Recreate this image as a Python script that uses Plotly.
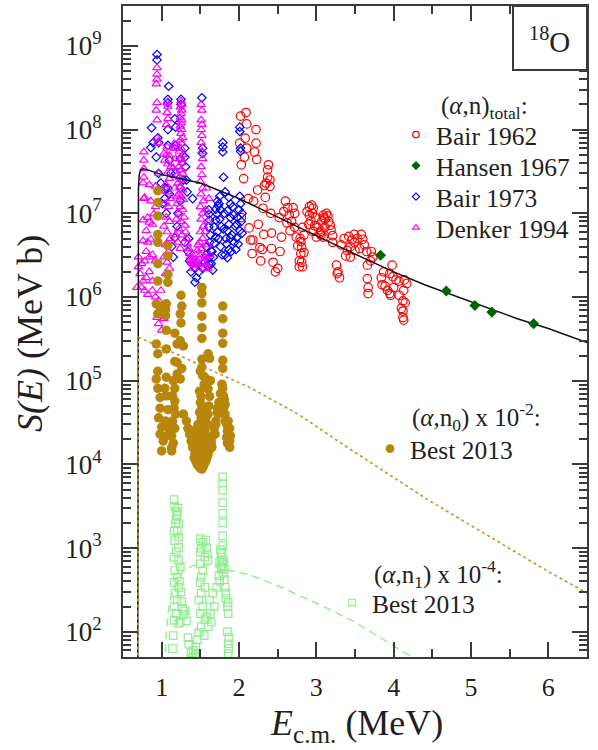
import plotly.graph_objects as go

FONT = "Liberation Serif, Times New Roman, DejaVu Serif, serif"
INK = "#231f20"
AX = "#3a3a3a"

# ---------------- data: (E_cm [MeV], S [MeV b]) ----------------
bair1962 = [
    (2.02, 1.45e8), (2.09, 1.6e8), (2.10, 1.17e8), (2.22, 1.0e8), (2.01, 6.9e7), (2.08, 7.9e7), (2.10, 6.0e7),
    (2.22, 6.9e7), (2.20, 5.4e7), (2.23, 4.4e7), (2.07, 4.7e7), (2.03, 3.8e7), (2.38, 3.8e7), (2.37, 3.3e7),
    (2.37, 2.7e7), (2.35, 2.3e7), (2.40, 2.5e7), (2.33, 2.15e7), (2.40, 2.1e7), (2.06, 2.6e7), (2.24, 1.9e7),
    (2.12, 1.5e7), (2.19, 1.4e7), (2.34, 1.55e7), (2.31, 1.15e7), (2.41, 1.0e7), (2.25, 7.4e6), (2.13, 6.7e6),
    (2.03, 8.9e6), (2.32, 5.6e6), (2.42, 5.8e6), (2.15, 4.8e6), (2.18, 4.8e6), (2.27, 3.9e6), (2.30, 3.7e6),
    (2.42, 3.8e6), (2.17, 3.3e6), (2.53, 3.5e6), (2.28, 2.7e6), (2.44, 2.6e6), (2.50, 2.2e6), (2.47, 2.0e6),
    (2.60, 1.4e7), (2.63, 1.17e7), (2.70, 1.17e7), (2.72, 1.0e7), (2.65, 9.5e6), (2.58, 1.05e7), (2.52, 8.9e6),
    (2.62, 7.7e6), (2.68, 8.0e6), (2.72, 6.8e6), (2.66, 6.2e6), (2.55, 5.2e6), (2.74, 5.2e6), (2.76, 4.1e6),
    (2.80, 4.6e6), (2.80, 3.3e6), (2.78, 2.7e6), (2.81, 2.6e6), (2.78, 2.3e6), (2.82, 2.3e6), (2.84, 3.4e6),
    (2.84, 5.5e6), (2.79, 5.0e6), (2.81, 3.9e6), (2.82, 6.8e6),
    (2.91, 1.2e7), (2.94, 1.25e7), (2.96, 1.15e7), (2.88, 1.05e7), (2.91, 9.5e6), (2.95, 1.0e7), (2.99, 8.9e6),
    (2.93, 8.1e6), (2.90, 7.4e6), (2.98, 7.1e6), (2.96, 6.1e6), (3.02, 6.8e6), (3.00, 5.2e6), (3.06, 6.1e6),
    (3.09, 9.5e6), (3.10, 8.9e6), (3.07, 8.1e6), (3.11, 6.8e6), (3.06, 5.5e6), (3.09, 5.2e6),
    (3.13, 1.0e7), (3.15, 9.3e6), (3.11, 8.5e6), (3.16, 8.0e6), (3.18, 7.2e6), (3.21, 5.4e6), (3.05, 5.8e6),
    (3.21, 4.5e6), (3.19, 6.3e6),
    (3.36, 5.0e6), (3.42, 5.3e6), (3.49, 5.6e6), (3.53, 5.0e6), (3.58, 5.6e6), (3.60, 4.9e6), (3.49, 4.5e6),
    (3.44, 4.0e6), (3.40, 3.6e6), (3.38, 3.1e6), (3.44, 3.0e6), (3.50, 3.6e6), (3.56, 3.8e6), (3.62, 4.2e6),
    (3.65, 3.5e6), (3.26, 2.4e6), (3.28, 2.0e6), (3.30, 1.7e6), (3.27, 1.9e6), (3.32, 4.2e6), (3.46, 4.8e6),
    (3.71, 3.5e6), (3.73, 3.0e6), (3.66, 2.4e6), (3.70, 2.7e6), (3.66, 1.66e6), (3.67, 1.3e6), (3.67, 1.1e6),
    (3.98, 2.4e6), (3.84, 1.7e6), (3.85, 1.4e6), (3.89, 1.35e6), (3.95, 1.1e6), (4.07, 1.05e6), (4.12, 9.0e5),
    (4.10, 7.3e5), (4.12, 6.8e5), (4.12, 5.7e5), (4.13, 5.3e5), (4.15, 8.5e5), (4.13, 1.2e6), (4.17, 1.45e6),
    (4.14, 1.6e6), (3.87, 2.0e6), (3.95, 1.9e6), (3.99, 1.75e6), (4.03, 1.6e6), (4.07, 1.55e6), (4.00, 1.3e6),
    (3.92, 1.2e6), (3.96, 1.05e6),
]

hansen1967 = [(3.83, 3.15e6), (4.68, 1.18e6), (5.05, 7.9e5), (5.27, 6.6e5), (5.81, 4.8e5)]

bair1973 = [
    (0.94, 7.9e8), (0.94, 6.8e8), (1.09, 3.3e8), (1.08, 2.3e8), (1.08, 2.1e8), (1.25, 2.3e8), (1.25, 2.0e8),
    (1.52, 2.4e8), (1.17, 1.35e8), (1.18, 1.07e8), (1.08, 1.0e8), (0.87, 1.05e8), (0.95, 8.0e7), (0.96, 7.0e7),
    (0.86, 6.1e7), (0.89, 7.0e7), (1.08, 6.5e7), (1.18, 6.5e7), (0.93, 4.7e7), (1.10, 4.3e7), (0.96, 3.0e7),
    (1.12, 3.0e7), (1.30, 6.0e7), (1.30, 4.7e7), (1.53, 6.0e7), (1.53, 5.2e7), (1.79, 7.0e7), (1.79, 6.2e7),
    (1.79, 5.4e7), (1.80, 2.7e7), (2.01, 1.07e8), (2.01, 9.5e7), (2.02, 6.0e7), (2.02, 5.5e7), (1.05, 2.0e7),
    (0.99, 2.3e7), (1.04, 1.5e7), (1.01, 1.3e7), (1.06, 1.0e7), (1.21, 1.0e7), (1.17, 5.1e6), (1.15, 3.0e6),
    (1.13, 4.0e6), (1.20, 7.0e6), (1.10, 1.7e7), (1.24, 1.4e7), (1.28, 2.5e7), (1.33, 1.8e7), (1.40, 1.5e7),
    (1.24, 4.5e7), (1.31, 3.6e7), (1.18, 3.0e7), (1.32, 2.5e7), (1.08, 2.0e7), (1.24, 2.0e7),
    (1.34, 3.5e6), (1.36, 2.7e6), (1.38, 2.0e6), (1.43, 1.5e6), (1.45, 1.7e6), (1.48, 2.0e6), (1.53, 2.2e6),
    (1.56, 2.6e6), (1.57, 3.2e6), (1.61, 2.5e6), (1.60, 2.3e6), (1.39, 2.5e6), (1.43, 2.2e6), (1.46, 2.6e6),
    (1.62, 3.0e6), (1.64, 3.6e6), (1.30, 4.5e6), (1.35, 5.0e6), (1.58, 4.0e6),
    (1.61, 1.1e7), (1.61, 9.8e6), (1.62, 8.3e6), (1.61, 6.9e6), (1.63, 5.5e6), (1.62, 4.5e6),
    (1.75, 1.6e7), (1.72, 1.4e7), (1.73, 1.23e7), (1.70, 1.12e7), (1.72, 9.8e6), (1.70, 8.3e6), (1.68, 6.9e6),
    (1.72, 6.0e6), (1.70, 5.2e6), (1.68, 4.4e6), (1.65, 3.5e6), (1.67, 3.0e6), (1.64, 2.5e6), (1.66, 2.1e6),
    (1.74, 1.3e7), (1.76, 1.1e7), (1.75, 8.5e6), (1.77, 7.0e6), (1.74, 5.0e6), (1.76, 4.0e6), (1.78, 3.2e6),
    (1.87, 1.55e7), (1.89, 1.3e7), (1.85, 1.07e7), (1.89, 8.9e6), (1.87, 7.4e6), (1.85, 6.2e6), (1.89, 5.1e6),
    (1.84, 4.3e6), (1.87, 3.7e6), (1.82, 3.2e6), (1.85, 2.95e6), (1.92, 1.2e7), (1.93, 9.5e6), (1.95, 7.0e6),
    (1.91, 5.5e6), (1.94, 4.5e6), (1.90, 3.5e6), (1.82, 1.8e7), (1.81, 1.0e7), (1.80, 6.5e6), (1.83, 5.0e6),
    (2.01, 1.6e7), (2.02, 1.3e7), (2.00, 1.1e7), (1.98, 8.9e6), (1.97, 7.4e6), (2.01, 6.2e6), (1.97, 5.1e6),
    (1.99, 4.3e6), (1.96, 3.7e6), (2.04, 1.0e7), (2.03, 8.0e6), (2.04, 5.8e6),
]

denker1994 = [
    (0.77, 5.4e7), (0.77, 4.3e7), (0.77, 3.4e7), (0.77, 2.7e7), (0.77, 1.5e7), (0.76, 8.3e6), (0.76, 4.7e6),
    (0.78, 1.55e7), (0.86, 1.4e7), (0.82, 8.9e6), (0.84, 7.8e6), (0.88, 7.4e6), (0.80, 6.2e6), (0.82, 4.5e6),
    (0.86, 4.9e6), (0.80, 3.5e6), (0.84, 3.0e6), (0.88, 3.2e6), (0.92, 2.7e6), (0.78, 2.7e6), (0.74, 2.5e6),
    (0.70, 2.3e6), (0.72, 1.9e6), (0.76, 1.55e6), (0.80, 1.7e6), (0.84, 2.0e6), (0.88, 1.55e6), (0.74, 1.3e6),
    (0.78, 1.2e6), (0.82, 1.07e6), (0.88, 1.2e6), (0.92, 1.0e6), (0.96, 9.1e5), (0.98, 6.8e5), (0.94, 5.7e5),
    (0.96, 4.8e5), (1.00, 4.0e5), (0.70, 3.0e6), (0.68, 1.3e6), (0.76, 2.3e7), (0.84, 2.2e7), (0.92, 2.1e7),
    (0.97, 1.85e7), (0.92, 1.2e7), (0.90, 9.8e6), (1.00, 7.5e5), (1.03, 5.5e5), (0.99, 1.2e6),
    (0.94, 5.5e8), (0.94, 4.6e8), (0.94, 4.0e8), (0.93, 3.5e8), (0.94, 2.1e8), (0.93, 1.7e8), (0.94, 1.3e8),
    (0.94, 7.9e7), (0.95, 7.0e7), (0.96, 3.0e7),
    (1.07, 2.1e8), (1.08, 1.9e8), (1.07, 1.6e8), (1.08, 1.35e8), (1.06, 1.15e8), (1.07, 6.2e7), (1.06, 5.0e7),
    (1.10, 4.9e7), (1.04, 4.3e7), (1.08, 3.9e7), (1.12, 3.6e7), (1.07, 3.0e7), (1.10, 2.6e7), (1.05, 2.2e7),
    (1.08, 1.8e7), (1.11, 1.5e7), (1.04, 1.3e7), (1.09, 1.2e7), (1.06, 9.0e6), (1.10, 8.0e6), (1.03, 7.0e6),
    (1.07, 6.0e6), (1.11, 5.0e6), (1.05, 4.2e6), (1.09, 3.5e6), (1.03, 3.0e6), (1.07, 2.6e6), (1.10, 2.2e6),
    (1.05, 1.9e6), (1.08, 1.6e6), (1.03, 5.2e7), (1.16, 6.8e7), (1.18, 6.0e7),
    (1.25, 2.2e8), (1.26, 2.0e8), (1.24, 1.85e8), (1.26, 1.7e8), (1.25, 1.55e8), (1.24, 1.4e8), (1.26, 1.3e8),
    (1.25, 1.2e8), (1.24, 1.1e8), (1.26, 1.0e8), (1.25, 9.0e7), (1.27, 8.0e7), (1.24, 7.5e7), (1.26, 6.8e7),
    (1.25, 6.0e7), (1.23, 5.5e7), (1.27, 5.0e7), (1.24, 4.5e7), (1.26, 4.0e7), (1.22, 3.6e7), (1.25, 3.3e7),
    (1.27, 3.0e7), (1.23, 2.7e7), (1.26, 2.5e7), (1.21, 2.3e7), (1.24, 2.1e7), (1.27, 1.9e7), (1.22, 1.7e7),
    (1.25, 1.6e7), (1.28, 1.45e7), (1.20, 1.3e7), (1.24, 1.2e7), (1.27, 1.1e7), (1.22, 1.0e7), (1.29, 9.0e6),
    (1.19, 8.5e6), (1.25, 8.0e6), (1.30, 7.2e6), (1.22, 6.5e6), (1.31, 6.0e6), (1.18, 5.5e6), (1.26, 5.5e6),
    (1.32, 5.0e6), (1.21, 4.5e6), (1.33, 4.3e6), (1.35, 3.8e6), (1.24, 3.8e6), (1.36, 3.3e6), (1.37, 3.0e6),
    (1.38, 2.8e6), (1.39, 2.6e6), (1.40, 2.5e6), (1.42, 2.6e6), (1.43, 2.4e6), (1.41, 2.2e6), (1.44, 2.8e6),
    (1.45, 3.2e6), (1.46, 3.6e6), (1.47, 4.2e6), (1.45, 2.5e6), (1.16, 6.0e7), (1.18, 4.5e7), (1.15, 3.5e7),
    (1.19, 2.8e7), (1.17, 2.0e7), (1.20, 1.6e7),
    (1.51, 2.0e8), (1.52, 1.7e8), (1.51, 1.3e8), (1.52, 1.15e8), (1.51, 1.0e8), (1.52, 8.5e7), (1.51, 7.0e7),
    (1.52, 5.5e7), (1.53, 4.5e7), (1.51, 3.6e7), (1.52, 2.9e7), (1.50, 2.4e7), (1.53, 2.0e7), (1.51, 1.7e7),
    (1.54, 1.4e7), (1.50, 1.2e7), (1.53, 1.0e7), (1.51, 8.5e6), (1.54, 7.0e6), (1.50, 6.0e6), (1.53, 5.0e6),
    (1.49, 4.5e6), (1.52, 3.8e6), (1.50, 3.2e6), (1.53, 2.6e6), (1.55, 2.2e6), (1.56, 3.0e6), (1.58, 2.5e6),
    (1.60, 2.2e6), (1.58, 2.0e7), (1.61, 1.5e7), (1.57, 1.1e7), (1.60, 8.0e6), (1.56, 6.0e6), (1.59, 4.2e6),
    (1.62, 3.2e6),
]

# (alpha,n0) x 1e-2
best2013_n0 = [
    (0.95, 1.86e7), (0.95, 1.35e7), (0.95, 9.3e6), (0.95, 5.6e6), (0.95, 4.5e6), (0.95, 2.5e6), (0.95, 1.55e6),
    (1.08, 4.1e6), (1.08, 3.1e6), (1.08, 1.86e6), (1.08, 1.5e6),
    (0.93, 8.3e5), (0.98, 7.6e5), (1.02, 6.5e5), (0.95, 6.3e5), (1.05, 6.0e5), (1.06, 8.3e5), (1.05, 7.0e5),
    (1.25, 1.05e6), (1.26, 7.8e5), (1.24, 6.3e5), (1.25, 4.9e5),
    (1.52, 1.3e6), (1.52, 1.1e6), (1.52, 8.5e5), (1.52, 5.9e5), (1.52, 4.3e5), (1.52, 3.2e5),
    (1.79, 7.8e5), (1.79, 5.5e5), (1.79, 3.7e5), (1.79, 2.8e5),
    (1.06, 4.0e5), (1.17, 3.7e5), (1.24, 3.0e5), (1.20, 2.75e5), (1.28, 2.6e5), (0.95, 2.1e5), (1.06, 2.4e5),
    (0.93, 2.75e5), (1.17, 1.7e5), (1.20, 1.65e5), (1.26, 1.4e5), (1.24, 1.05e5), (1.20, 1.2e5),
    (1.60, 2.1e5), (1.62, 1.85e5), (1.52, 1.8e5), (1.52, 1.45e5), (1.50, 1.3e5), (1.53, 1.15e5), (1.56, 1.1e5),
    (1.55, 9.1e4), (1.79, 1.75e5), (1.79, 1.4e5),
    (1.78, 9.1e4), (1.79, 8.1e4), (1.80, 6.6e4), (1.81, 6.0e4), (1.82, 5.2e4), (1.80, 4.7e4), (1.82, 4.0e4),
    (1.82, 3.3e4), (1.84, 3.0e4), (1.85, 2.5e4), (1.84, 2.1e4), (1.85, 1.8e4), (1.88, 1.6e4),
    (1.86, 3.3e4), (1.88, 2.7e4), (1.89, 2.2e4), (1.88, 1.9e4),
    (0.95, 1.3e5), (0.93, 1.05e5), (0.95, 8.1e4), (0.98, 6.3e4),
    (1.06, 1.1e5), (1.04, 8.1e4), (1.06, 6.6e4), (1.08, 4.5e4), (1.05, 3.3e4), (1.09, 2.7e4), (1.07, 2.2e4),
    (1.15, 1.0e5), (1.17, 8.1e4), (1.14, 6.6e4), (1.17, 5.7e4), (1.16, 4.7e4), (1.18, 4.0e4), (1.14, 3.3e4),
    (1.17, 2.7e4), (1.13, 2.2e4), (1.15, 1.8e4), (1.13, 1.6e4), (1.13, 1.45e4),
    (0.98, 4.7e4), (0.96, 3.6e4), (1.00, 2.8e4), (0.98, 2.3e4), (1.02, 1.9e4), (1.00, 1.45e4),
    (1.28, 4.0e4), (1.32, 3.3e4), (1.34, 2.7e4), (1.36, 2.3e4), (1.38, 1.9e4), (1.40, 1.6e4), (1.43, 1.35e4),
    (1.45, 1.15e4),
    (1.42, 1.2e4), (1.44, 1.1e4), (1.46, 1.0e4), (1.48, 9.5e3), (1.50, 9.0e3), (1.52, 8.8e3), (1.54, 9.5e3),
    (1.56, 1.05e4), (1.58, 1.15e4), (1.60, 1.3e4), (1.62, 1.5e4), (1.64, 1.8e4), (1.66, 2.2e4), (1.68, 2.7e4),
    (1.70, 3.3e4), (1.72, 4.2e4), (1.74, 5.5e4), (1.76, 7.0e4),
    (1.49, 7.5e4), (1.51, 6.5e4), (1.50, 5.5e4), (1.52, 4.8e4), (1.49, 4.2e4), (1.51, 3.6e4), (1.53, 3.1e4),
    (1.50, 2.7e4), (1.52, 2.3e4), (1.49, 2.0e4), (1.51, 1.75e4), (1.53, 1.5e4), (1.50, 1.3e4), (1.52, 1.15e4),
    (1.48, 1.3e4), (1.55, 1.25e4), (1.57, 1.5e4), (1.55, 1.9e4), (1.58, 2.1e4), (1.56, 2.5e4), (1.59, 3.0e4),
    (1.57, 3.5e4), (1.60, 4.0e4), (1.61, 5.0e4), (1.62, 6.5e4), (1.60, 8.0e4), (1.63, 1.0e5), (1.47, 1.7e4),
    (1.45, 1.45e4), (1.46, 2.1e4), (1.44, 2.6e4), (1.47, 3.0e4),
    (1.64, 1.9e4), (1.65, 1.6e4), (1.69, 2.3e4), (1.70, 3.0e4), (1.73, 4.0e4), (1.72, 4.7e4),
]

# (alpha,n1) x 1e-4
best2013_n1 = [
    (1.79, 7.1e3), (1.79, 6.0e3), (1.79, 4.9e3), (1.79, 3.5e3), (1.79, 2.6e3), (1.79, 2.0e3), (1.79, 1.4e3),
    (1.79, 1.07e3), (1.78, 890), (1.77, 780), (1.79, 680), (1.78, 590), (1.80, 500), (1.81, 420), (1.82, 340),
    (1.83, 290), (1.76, 950), (1.80, 720), (1.77, 600), (1.81, 560), (1.83, 250),
    (1.16, 3.8e3), (1.17, 3.16e3), (1.19, 2.75e3), (1.20, 2.5e3), (1.19, 2.2e3), (1.22, 1.95e3), (1.20, 1.6e3),
    (1.16, 1.6e3), (1.17, 1.23e3), (1.22, 1.02e3), (1.16, 780), (1.22, 710), (1.17, 540), (1.20, 450),
    (1.16, 390), (1.22, 340), (1.17, 290), (1.20, 240), (1.16, 200), (1.19, 165), (1.16, 138), (1.22, 126),
    (1.21, 3.0e3), (1.18, 2.0e3), (1.22, 1.35e3), (1.19, 900), (1.24, 600), (1.23, 400), (1.25, 300),
    (1.26, 230), (1.27, 190), (1.28, 160), (1.24, 130), (1.15, 90), (1.14, 63),
    (1.30, 178), (1.32, 135), (1.34, 85), (1.35, 71), (1.38, 56), (1.40, 49), (1.43, 52), (1.41, 60),
    (1.50, 1.3e3), (1.53, 1.17e3), (1.57, 1.25e3), (1.51, 1.0e3), (1.50, 890), (1.56, 780), (1.50, 650),
    (1.53, 540), (1.51, 450), (1.50, 390), (1.56, 340), (1.51, 290), (1.48, 240), (1.53, 200), (1.50, 165),
    (1.56, 140), (1.51, 115), (1.48, 98), (1.46, 80), (1.44, 66), (1.58, 1.0e3), (1.59, 850), (1.60, 720),
    (1.62, 240), (1.66, 290), (1.71, 340), (1.75, 400), (1.74, 470), (1.77, 560), (1.75, 690),
    (1.63, 165), (1.68, 200), (1.60, 115), (1.55, 90), (1.58, 150), (1.64, 130), (1.45, 55),
    (1.86, 225), (1.85, 200), (1.86, 165), (1.85, 100), (1.87, 85), (1.86, 72), (1.87, 63), (1.86, 55),
]

# model curves
fit_total_E = [0.690, 0.692, 0.700, 0.710, 0.730, 0.760, 0.80, 1.00, 1.25, 1.50, 1.75, 2.00, 2.40, 2.80,
               3.20, 3.60, 4.00, 4.40, 4.80, 5.20, 5.60, 6.00, 6.50]
fit_total_S = [10, 1.0e6, 2.0e7, 2.9e7, 3.3e7, 3.4e7, 3.35e7, 2.9e7, 2.6e7, 2.3e7, 1.86e7, 1.5e7, 1.0e7, 6.6e6,
               4.4e6, 2.95e6, 2.0e6, 1.4e6, 1.02e6, 7.4e5, 5.5e5, 4.2e5, 2.85e5]
fit_n0_E = [0.690, 0.692, 0.700, 1.00, 1.36, 1.75, 2.14, 2.78, 3.40, 4.07, 4.44, 5.00, 5.50, 6.00, 6.50]
fit_n0_S = [10, 1.0e5, 3.3e5, 2.5e5, 1.74e5, 1.2e5, 8.3e4, 3.9e4, 1.6e4, 6.3e3, 3.8e3, 1.86e3, 1.0e3, 525, 290]
fit_n1_E = [1.04, 1.06, 1.10, 1.15, 1.27, 1.40, 1.55, 1.70, 1.84, 2.14, 2.50, 2.78, 3.10, 3.47, 3.75, 4.00, 4.30]
fit_n1_S = [40, 100, 224, 316, 525, 617, 631, 603, 550, 479, 355, 269, 200, 135, 95, 68, 46]

y_tick_exp = [2, 3, 4, 5, 6, 7, 8, 9]
x_ticks = [1, 2, 3, 4, 5, 6]

# ---------------- figure ----------------
W, H = 598, 750
L, R, T, B = 123, 11, 6, 93
PW, PH = W - L - R, H - T - B


def px(xp):
    return (xp - L) / PW


def py(yp):
    return (H - B - yp) / PH


def xy(data):
    return [d[0] for d in data], [d[1] for d in data]


fig = go.Figure()

# name, data, symbol, colour, size, line width, legend size, legend id
series = [
    ("Bair 1962", bair1962, "circle-open", "#ff0000", 8.5, 1.2, 6.5, "legend"),
    ("Bair 1973", bair1973, "diamond-open", "#0000ff", 6.5, 1.2, 5.5, "legend3"),
    ("Denker 1994", denker1994, "triangle-up-open", "#ff00ff", 7.5, 1.2, 6, "legend4"),
    ("Best 2013", best2013_n0, "circle", "#b8860b", 9.5, 0, 7.5, "legend5"),
    ("Best 2013", best2013_n1, "square-open", "#90ee90", 7.5, 1.2, 6.5, "legend6"),
]
for name, data, sym, col, size, lw, lsize, leg in series:
    x, y = xy(data)
    fig.add_trace(go.Scatter(x=x, y=y, mode="markers", showlegend=False,
                             marker=dict(symbol=sym, color=col, size=size, line=dict(width=lw, color=col))))

fig.add_trace(go.Scatter(x=fit_total_E, y=fit_total_S, mode="lines", showlegend=False,
                         line=dict(color="#111111", width=1.5)))
fig.add_trace(go.Scatter(x=fit_n0_E, y=fit_n0_S, mode="lines", showlegend=False,
                         line=dict(color="#c8912a", width=1.6, dash="dot")))
fig.add_trace(go.Scatter(x=fit_n1_E, y=fit_n1_S, mode="lines", showlegend=False,
                         line=dict(color="#90ee90", width=1.4, dash="8px,5px")))

hx, hy = xy(hansen1967)
fig.add_trace(go.Scatter(x=hx, y=hy, mode="markers", showlegend=False,
                         marker=dict(symbol="diamond", color="#006400", size=8.5, line=dict(width=0))))

# legend-only entries
for name, data, sym, col, size, lw, lsize, leg in series:
    fig.add_trace(go.Scatter(x=[None], y=[None], mode="markers", name=name, legend=leg,
                             marker=dict(symbol=sym, color=col, size=lsize, line=dict(width=1.2, color=col))))
fig.add_trace(go.Scatter(x=[None], y=[None], mode="markers", name="Hansen 1967", legend="legend2",
                         marker=dict(symbol="diamond", color="#006400", size=7, line=dict(width=0))))

legfont = dict(family=FONT, size=25.5, color=INK)
leg_pos = {"legend": (440, 135), "legend2": (440, 166), "legend3": (440, 197), "legend4": (440, 228),
           "legend5": (414, 449), "legend6": (376, 603)}
for k, (tx, ty) in leg_pos.items():
    fig.update_layout({k: dict(x=px(tx - 44), y=py(ty), xanchor="left", yanchor="middle",
                               bgcolor="rgba(0,0,0,0)", borderwidth=0, font=legfont,
                               itemwidth=30, tracegroupgap=0)})

annots = [
    dict(text="(<i>α</i>,n)<sub>total</sub>:", x=px(439), y=py(108), xanchor="left", yanchor="middle"),
    dict(text="(<i>α</i>,n<sub>0</sub>) x 10<sup>-2</sup>:", x=px(410), y=py(417), xanchor="left", yanchor="middle"),
    dict(text="(<i>α</i>,n<sub>1</sub>) x 10<sup>-4</sup>:", x=px(372), y=py(574), xanchor="left", yanchor="middle"),
]
for a in annots:
    fig.add_annotation(xref="paper", yref="paper", showarrow=False, font=dict(family=FONT, size=25, color=INK), **a)

# 18O box
fig.add_shape(type="rect", xref="paper", yref="paper", x0=px(513), x1=1.0, y0=py(70), y1=1.0,
              line=dict(color=AX, width=2), fillcolor="white", layer="above")
fig.add_annotation(xref="paper", yref="paper", x=px(549), y=py(40), xanchor="center", yanchor="middle",
                   showarrow=False, text="<sup>18</sup>O", font=dict(family=FONT, size=29, color=INK))

# axis titles
fig.add_annotation(xref="paper", yref="paper", x=px(356), y=py(725), xanchor="center", yanchor="middle",
                   showarrow=False, text="<i>E</i><sub>c.m.</sub> (MeV)", font=dict(family=FONT, size=36, color=INK))
fig.add_annotation(xref="paper", yref="paper", x=px(30), y=py(334), xanchor="center", yanchor="middle",
                   showarrow=False, textangle=-90, text="<i>S(E)</i> (MeV b)",
                   font=dict(family=FONT, size=36, color=INK))

fig.update_xaxes(range=[0.5, 6.5], tickmode="array", tickvals=x_ticks, ticktext=[str(v) for v in x_ticks],
                 ticks="inside", ticklen=15, tickwidth=1.5, tickcolor=AX, showline=True, linecolor=AX,
                 linewidth=2, mirror="allticks", showgrid=False, zeroline=False,
                 tickfont=dict(family=FONT, size=26, color=INK), ticklabelstandoff=6,
                 minor=dict(tickmode="array", tickvals=[v + 0.5 for v in [0] + x_ticks], ticks="inside",
                            ticklen=8, tickwidth=1.5, tickcolor=AX, showgrid=False))
fig.update_yaxes(type="log", range=[1.699, 9.477], tickmode="array", tickvals=[10 ** e for e in y_tick_exp],
                 ticktext=["10<sup>%d</sup>" % e for e in y_tick_exp],
                 ticks="inside", ticklen=15, tickwidth=1.5, tickcolor=AX, showline=True, linecolor=AX,
                 linewidth=2, mirror="allticks", showgrid=False, zeroline=False,
                 tickfont=dict(family=FONT, size=27, color=INK), ticklabelstandoff=14,
                 minor=dict(tickmode="array", tickvals=[m * 10 ** e for e in range(1, 10) for m in range(2, 10)],
                            ticks="inside", ticklen=8, tickwidth=1.5, tickcolor=AX, showgrid=False))

fig.update_layout(width=W, height=H, margin=dict(l=L, r=R, t=T, b=B, autoexpand=False),
                  paper_bgcolor="white", plot_bgcolor="white", font=dict(family=FONT, color=INK))

fig.write_html("out.html")
